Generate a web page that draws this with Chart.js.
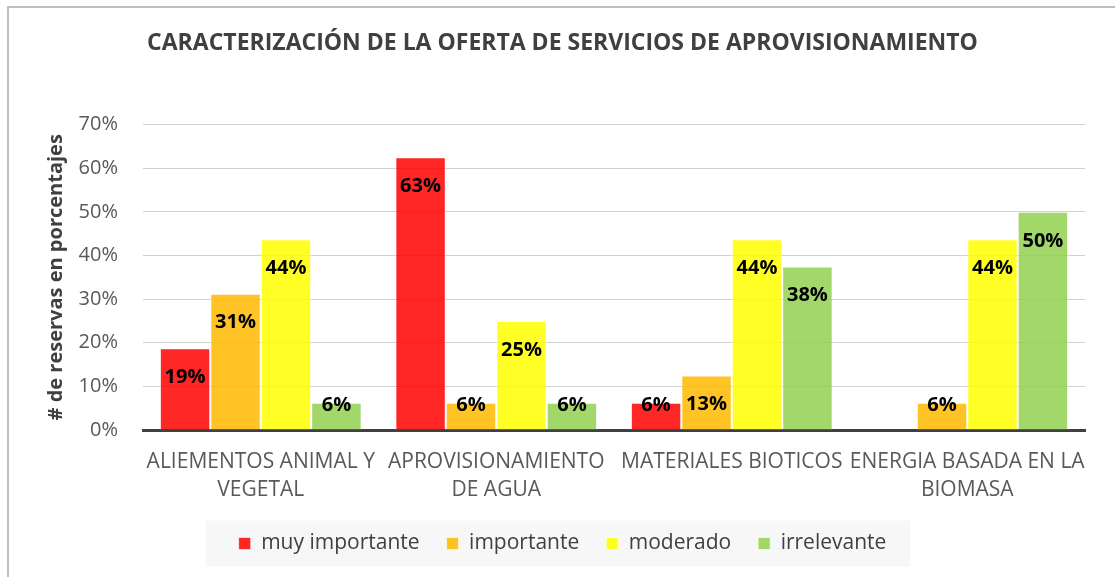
<!DOCTYPE html>
<html>
<head>
<meta charset="utf-8">
<script src="https://cdn.jsdelivr.net/npm/chart.js@4/dist/chart.umd.min.js"></script>
<style>
html,body{margin:0;padding:0;background:#fff;}
#wrap{position:relative;width:1115px;height:577px;overflow:hidden;}
#frame{position:absolute;left:7px;top:6px;width:1200px;height:700px;border-top:2px solid #bfbfbf;border-left:2px solid #bfbfbf;box-sizing:border-box;}
canvas{position:absolute;left:0;top:0;}
</style>
</head>
<body>
<div id="wrap"><div id="frame"></div><canvas id="c" width="1115" height="577"></canvas></div>
<script>
const categories = [["ALIEMENTOS ANIMAL Y","VEGETAL"],["APROVISIONAMIENTO","DE AGUA"],["MATERIALES BIOTICOS"],["ENERGIA BASADA EN LA","BIOMASA"]];
const seriesNames = ["muy importante","importante","moderado","irrelevante"];
const muyImportante = [18.75, 62.5, 6.25, 0];
const importante = [31.25, 6.25, 12.5, 6.25];
const moderado = [43.75, 25, 43.75, 43.75];
const irrelevante = [6.25, 6.25, 37.5, 50];
const yTicks = [0,10,20,30,40,50,60,70];
const colors = ["rgba(255,0,0,0.85)","rgba(255,184,0,0.85)","rgba(255,255,0,0.85)","rgba(146,208,80,0.85)"];
const FONT = "'Open Sans', sans-serif";

const labelPlugin = {
  id:'barLabels',
  afterDatasetsDraw(chart){
    const ctx = chart.ctx;
    const base = chart.scales.y.getPixelForValue(0);
    ctx.save();
    ctx.font = "bold 20px " + FONT;
    ctx.fillStyle = "#000";
    ctx.textAlign = "center";
    ctx.textBaseline = "middle";
    chart.data.datasets.forEach((ds,i)=>{
      const meta = chart.getDatasetMeta(i);
      meta.data.forEach((bar,j)=>{
        const v = ds.data[j];
        if(!v) return;
        const y = Math.min(bar.y + 29, base - 25);
        ctx.fillText(Math.round(v) + "%", bar.x, y);
      });
    });
    ctx.restore();
  }
};
const legendBg = {
  id:'legendBg',
  beforeDraw(chart){
    const lg = chart.legend;
    if(!lg || !lg.legendHitBoxes || !lg.legendHitBoxes.length) return;
    const hb = lg.legendHitBoxes;
    const l = Math.min(...hb.map(h=>h.left)) - 33;
    const r = Math.max(...hb.map(h=>h.left+h.width)) + 24;
    const cy = hb[0].top + hb[0].height/2;
    const ctx = chart.ctx;
    ctx.save();
    ctx.fillStyle = "#f7f7f7";
    ctx.fillRect(l, cy-23, r-l, 46);
    ctx.restore();
  }
};

new Chart(document.getElementById('c'), {
  type:'bar',
  data:{
    labels: categories,
    datasets: [muyImportante, importante, moderado, irrelevante].map((d,i)=>({
      label: seriesNames[i], data: d, backgroundColor: colors[i],
      borderColor: 'rgba(255,255,255,0.6)', borderWidth: 1,
      categoryPercentage: 0.857, barPercentage: 1
    }))
  },
  options:{
    responsive:false, animation:false, devicePixelRatio:1,
    layout:{padding:{left:40, right:30, top:0, bottom:13}},
    plugins:{
      title:{display:true, text:"CARACTERIZACIÓN DE LA OFERTA DE SERVICIOS DE APROVISIONAMIENTO",
        color:'#404040', font:{family:FONT, size:23, weight:'bold'}, padding:{top:30, bottom:67}},
      legend:{position:'bottom', labels:{color:'#404040', font:{family:FONT, size:21}, boxWidth:12, boxHeight:12, padding:27}},
      tooltip:{enabled:false}
    },
    scales:{
      x:{
        grid:{display:false},
        border:{display:true, color:'#404040', width:3},
        ticks:{color:'#595959', font:{family:FONT, size:21, lineHeight:1.33}, maxRotation:0, autoSkip:false, padding:10},
        afterFit(s){ s.height = 76; }
      },
      y:{
        min:0, max:70,
        afterBuildTicks(s){ s.ticks = yTicks.map(v=>({value:v})); },
        grid:{color:'#d0d0d0', drawTicks:false},
        border:{display:false},
        ticks:{color:'#595959', font:{family:FONT, size:20}, padding:25, callback:v=>v+'%'},
        title:{display:true, text:'# de reservas en porcentajes', color:'#404040', font:{family:FONT, size:20, weight:'bold'}, padding:{top:4,bottom:4}},
        afterFit(s){ s.width = 103; }
      }
    }
  },
  plugins:[legendBg, labelPlugin]
});
</script>
</body>
</html>
